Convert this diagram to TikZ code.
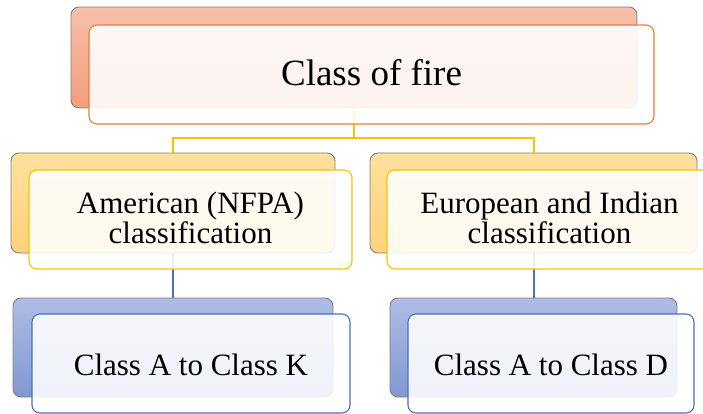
\documentclass[tikz,border=0pt]{standalone}
\usepackage{fontspec}
\setmainfont{Liberation Serif}
\definecolor{orgline}{HTML}{ED7D31}
\definecolor{goldline}{HTML}{FFC000}
\definecolor{blueline}{HTML}{4472C4}
\definecolor{backgray}{HTML}{7F7F7F}
\definecolor{orgtop}{HTML}{F7C0AA}
\definecolor{orgbot}{HTML}{F49D7D}
\definecolor{goldtop}{HTML}{FFE09E}
\definecolor{goldbot}{HTML}{FFD27A}
\definecolor{bluetop}{HTML}{AEBDE4}
\definecolor{bluebot}{HTML}{8198D2}
\begin{document}
\begin{tikzpicture}[x=1pt,y=-1pt,
  backbox/.style={draw=backgray, line width=0.9pt, rounded corners=8pt, inner sep=0pt},
  frontbox/.style={draw=#1, line width=1.1pt, rounded corners=8pt, inner sep=0pt, fill=white, fill opacity=0.88},
  txt/.style={text=black, align=center, inner sep=0pt},
  bigfont/.style={font=\fontsize{37}{42}\selectfont},
  midfont/.style={font=\fontsize{31}{30}\selectfont},
  yconn/.style={draw=goldline, line width=2pt},
  bconn/.style={draw=blueline, line width=2pt}]
\useasboundingbox (0,0) rectangle (703,414);
\clip (0,0) rectangle (703,414);
% back boxes
\node[backbox, top color=orgtop, bottom color=orgbot, minimum width=566pt, minimum height=101pt] (tb) at (354,57.5) {};
\node[backbox, top color=goldtop, bottom color=goldbot, minimum width=324pt, minimum height=100pt] (lb) at (173,203) {};
\node[backbox, top color=goldtop, bottom color=goldbot, minimum width=327pt, minimum height=100pt] (rb) at (533.5,203) {};
\node[backbox, top color=bluetop, bottom color=bluebot, minimum width=320pt, minimum height=99pt] (blb) at (173,347.5) {};
\node[backbox, top color=bluetop, bottom color=bluebot, minimum width=287pt, minimum height=99pt] (brb) at (533.5,347.5) {};
% connectors
\draw[yconn] (tb.south) -- ++(0,30) -| (lb.north);
\draw[yconn] (tb.south) ++(0,30) -| (rb.north);
\draw[bconn] (lb.south) -- (blb.north);
\draw[bconn] (rb.south) -- (brb.north);
% front boxes
\node[frontbox=orgline, minimum width=565pt, minimum height=99pt] (tf) at (371.5,74.5) {};
\node[frontbox=goldline, minimum width=323pt, minimum height=99pt] (lf) at (190.5,219.5) {};
\node[frontbox=goldline, minimum width=325pt, minimum height=99pt] (rf) at (549.5,219.5) {};
\node[frontbox=blueline, minimum width=318pt, minimum height=99pt] (blf) at (191,363.5) {};
\node[frontbox=blueline, minimum width=286pt, minimum height=99pt] (brf) at (551,363.5) {};
% texts
\node[txt, bigfont] (tt) at ([shift={(0,-1.5)}]tf.center) {Class of fire};
\node[txt, midfont] (lt) at ([shift={(0,-1.5)}]lf.center) {American (NFPA)\\classification};
\node[txt, midfont] (rt) at ([shift={(0,-1.5)}]rf.center) {European and Indian\\classification};
\node[txt, midfont] (blt) at ([shift={(0,1)}]blf.center) {Class A to Class K};
\node[txt, midfont] (brt) at ([shift={(0,1)}]brf.center) {Class A to Class D};
\end{tikzpicture}
\end{document}
